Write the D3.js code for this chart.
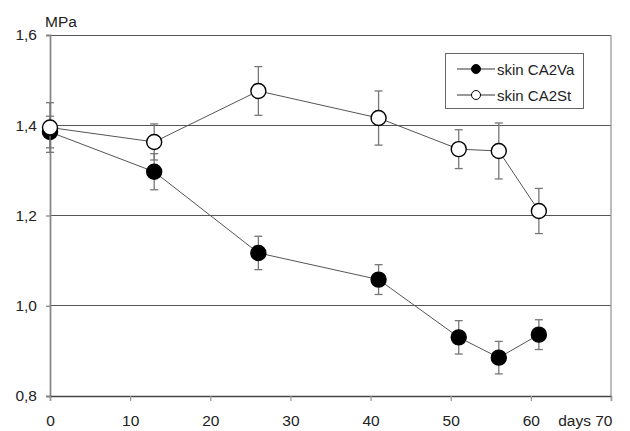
<!DOCTYPE html>
<html>
<head>
<meta charset="utf-8">
<script src="https://cdn.jsdelivr.net/npm/d3@7"></script>
<style>
  html, body { margin: 0; padding: 0; background: #fff; }
  svg { display: block; font-family: "Liberation Sans", Arial, sans-serif; }
</style>
</head>
<body>
<svg id="chart" width="630" height="431"></svg>
<script>
// Measurement days
const days = [0, 13, 26, 41, 51, 56, 61];

// Mean values (MPa) and error bar half-widths
const va = [1.385, 1.297, 1.117, 1.058, 0.930, 0.885, 0.936];
const vaErr = [0.035, 0.040, 0.037, 0.033, 0.037, 0.036, 0.033];
const st = [1.395, 1.363, 1.476, 1.416, 1.347, 1.343, 1.210];
const stErr = [0.055, 0.040, 0.054, 0.060, 0.043, 0.062, 0.050];

const seriesNames = ["skin CA2Va", "skin CA2St"];
const xTicks = [0, 10, 20, 30, 40, 50, 60, 70];
const yTicks = [0.8, 1.0, 1.2, 1.4, 1.6];

const svg = d3.select("#chart");
const plotL = 50, plotR = 611, plotT = 35, plotB = 396;

const x = d3.scaleLinear().domain([0, 70]).range([plotL, plotR]);
const y = d3.scaleLinear().domain([0.8, 1.6]).range([plotB, plotT]);

const fmt = v => d3.format(".1f")(v).replace(".", ",");

// Horizontal gridlines
svg.append("g").selectAll("line").data(yTicks).join("line")
  .attr("x1", plotL).attr("x2", plotR)
  .attr("y1", d => y(d)).attr("y2", d => y(d))
  .attr("stroke", "#555").attr("stroke-width", 1).attr("shape-rendering", "crispEdges");

// Right border
svg.append("line").attr("x1", plotR).attr("x2", plotR).attr("y1", plotT).attr("y2", plotB)
  .attr("stroke", "#999").attr("stroke-width", 1.3);

// Y axis
const yAxis = svg.append("g").attr("transform", `translate(${plotL},0)`)
  .call(d3.axisLeft(y).tickValues(yTicks).tickFormat(fmt).tickSize(4).tickPadding(9));
yAxis.select(".domain").attr("stroke", "#888").attr("stroke-width", 1.8);
yAxis.selectAll(".tick line").attr("stroke", "#888").attr("stroke-width", 1.3);
yAxis.selectAll("text").attr("font-size", 15.5).attr("fill", "#222")
  .attr("font-family", "Liberation Sans, Arial, sans-serif");

// X axis
const xAxis = svg.append("g").attr("transform", `translate(0,${plotB})`)
  .call(d3.axisBottom(x).tickValues(xTicks)
    .tickFormat(d => d === 70 ? "days 70" : String(d)).tickSize(5).tickPadding(14));
xAxis.select(".domain").attr("stroke", "#444").attr("stroke-width", 1.3);
xAxis.selectAll(".tick line").attr("stroke", "#999").attr("stroke-width", 1.3);
xAxis.selectAll("text").attr("font-size", 15.5).attr("fill", "#222")
  .attr("font-family", "Liberation Sans, Arial, sans-serif");
xAxis.selectAll(".tick").filter(d => d === 70).select("text")
  .attr("text-anchor", "end").attr("x", 1);

// Unit label
svg.append("text").attr("x", 45).attr("y", 27).attr("font-size", 15.5).attr("fill", "#222")
  .text("MPa");

const series = [
  { name: seriesNames[0], vals: va, err: vaErr, fill: "#000" },
  { name: seriesNames[1], vals: st, err: stErr, fill: "#fff" }
];

const line = d3.line().x(d => x(d[0])).y(d => y(d[1]));

series.forEach(s => {
  const pts = days.map((d, i) => [d, s.vals[i], s.err[i]]);
  const g = svg.append("g");
  // error bars
  const eb = g.append("g").selectAll("g").data(pts).join("g");
  eb.append("line")
    .attr("x1", d => x(d[0])).attr("x2", d => x(d[0]))
    .attr("y1", d => y(d[1] + d[2])).attr("y2", d => y(d[1] - d[2]))
    .attr("stroke", "#777").attr("stroke-width", 1.3);
  eb.selectAll("line.cap").data(d => [[d[0], d[1] + d[2]], [d[0], d[1] - d[2]]]).join("line")
    .attr("class", "cap")
    .attr("x1", d => x(d[0]) - 4).attr("x2", d => x(d[0]) + 4)
    .attr("y1", d => y(d[1])).attr("y2", d => y(d[1]))
    .attr("stroke", "#777").attr("stroke-width", 1.3);
  // connecting line
  g.append("path").datum(pts).attr("d", line)
    .attr("fill", "none").attr("stroke", "#555").attr("stroke-width", 1);
  // markers
  g.append("g").selectAll("circle").data(pts).join("circle")
    .attr("cx", d => x(d[0])).attr("cy", d => y(d[1])).attr("r", 7.5)
    .attr("fill", s.fill).attr("stroke", "#000").attr("stroke-width", 1.4);
});

// Legend
const lg = svg.append("g");
lg.append("rect").attr("x", 445.5).attr("y", 53.5).attr("width", 138).attr("height", 55)
  .attr("fill", "#fff").attr("stroke", "#666").attr("stroke-width", 1);
series.forEach((s, i) => {
  const cy = 69 + i * 26;
  lg.append("line").attr("x1", 457).attr("x2", 495).attr("y1", cy).attr("y2", cy)
    .attr("stroke", "#333").attr("stroke-width", 1);
  lg.append("circle").attr("cx", 476).attr("cy", cy).attr("r", 4.5)
    .attr("fill", s.fill).attr("stroke", "#000").attr("stroke-width", 1);
  lg.append("text").attr("x", 497).attr("y", cy + 5.5).attr("font-size", 15)
    .attr("fill", "#222").text(s.name);
});
</script>
</body>
</html>
